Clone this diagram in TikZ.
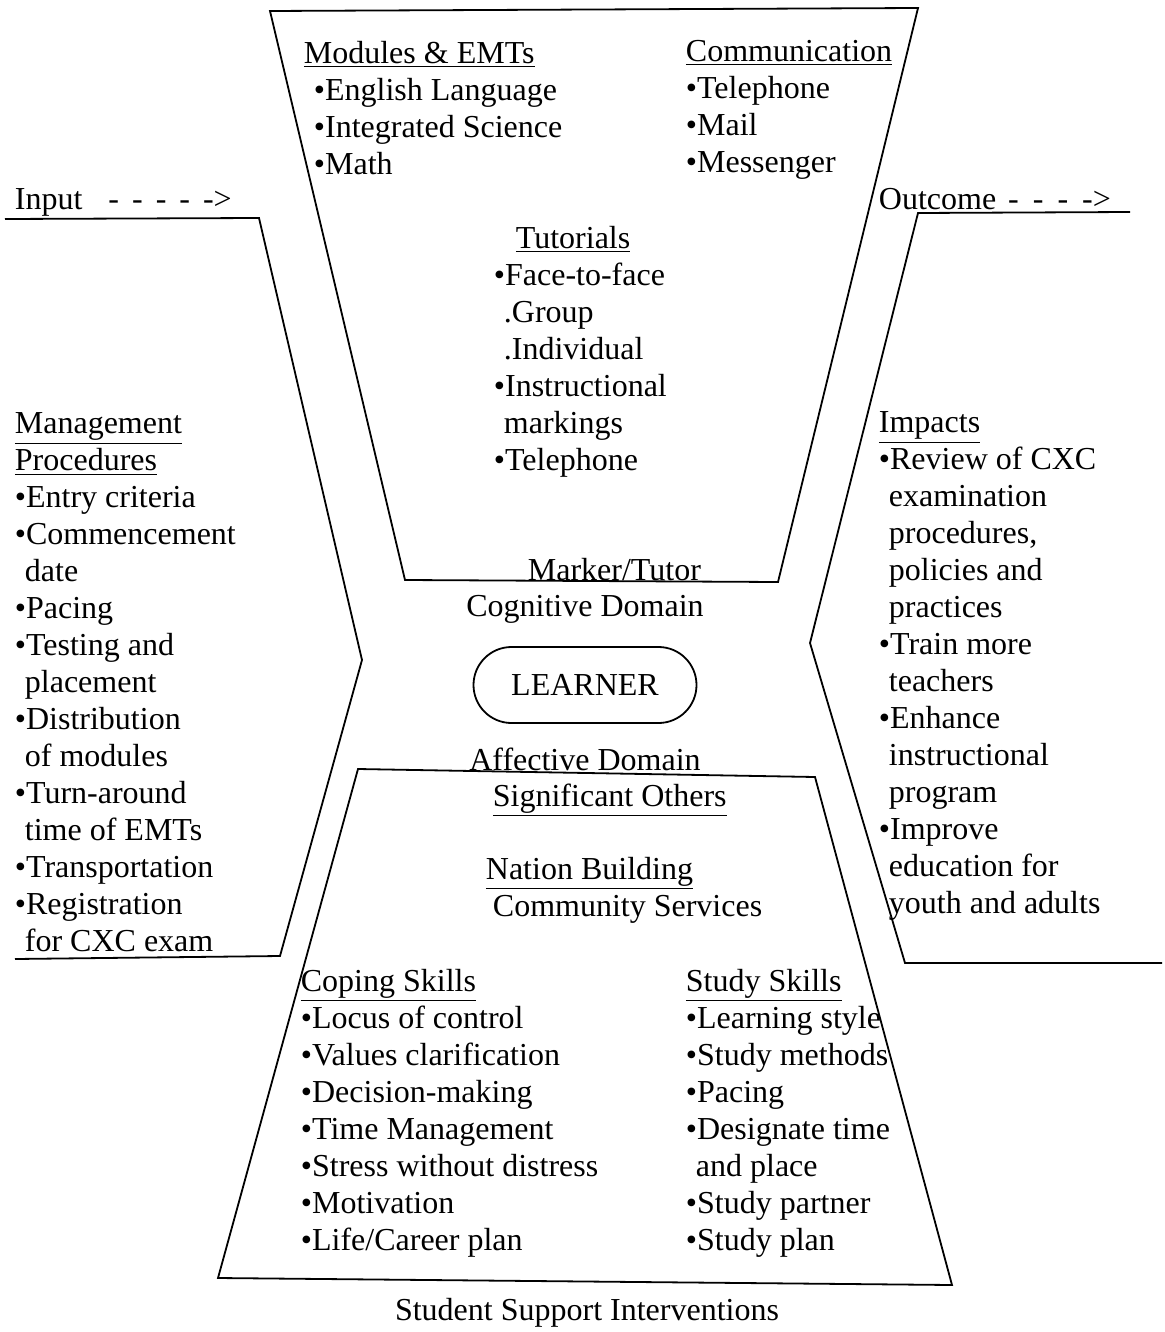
\documentclass[tikz,border=0pt]{standalone}
\usepackage{fontspec}
\setmainfont{Liberation Serif}
\usepackage{tikz}
\usetikzlibrary{positioning}
\newcommand{\bodyfont}{\fontsize{16}{18.5}\selectfont}
\newcommand{\ind}{\hspace*{5pt}}

\begin{document}
\begin{tikzpicture}[
    x=0.5pt, y=-0.5pt,
    line width=0.9pt,
    txt/.style={inner sep=0pt, align=left, anchor=north west, font=\bodyfont},
    lbl/.style={inner sep=0pt, font=\bodyfont},
    core/.style={draw, rounded corners=19pt, minimum width=111.5pt, minimum height=38pt, font=\bodyfont}
]
\useasboundingbox (0,0) rectangle (1164,1332);
% hourglass
\draw (270,11) -- (918,8) -- (778,582) -- (405,580) -- cycle;
\draw (358,769) -- (815,777) -- (952,1285) -- (218,1278) -- cycle;
% input and outcome brackets
\draw (5,219) -- (259,218) -- (362,660) -- (280,956) -- (15,959);
\draw (1130,212) -- (918,213) -- (810,643) -- (905,963) -- (1162,963);

\node[lbl, anchor=base west] (input) at (14,210) {Input\hspace{13pt}-\hspace{6.5pt}-\hspace{6.5pt}-\hspace{6.5pt}-\hspace{6.5pt}->};
\node[lbl, anchor=base west] (outcome) at (878,210) {Outcome\hspace{6pt}-\hspace{7pt}-\hspace{7pt}-\hspace{7pt}->};

% top funnel
\node[txt] (modules) at (303,40) {\underline{Modules \& EMTs}\\\ind•English Language\\\ind•Integrated Science\\\ind•Math};
\node[txt] (comm) at (685,39) {\underline{Communication}\\•Telephone\\•Mail\\•Messenger};
\node[txt] (tutorials) at (493,225) {\hspace*{11pt}\underline{Tutorials}\\•Face-to-face\\\ind.Group\\\ind.Individual\\•Instructional\\\ind markings\\•Telephone};
\node[lbl, anchor=base west] (marker) at (527,580) {Marker/Tutor};

% centre
\node[core] (learner) at (585,685) {LEARNER};
\node[lbl, above=11pt of learner] (cognitive) {Cognitive Domain};
\node[lbl, below=11.5pt of learner] (affective) {Affective Domain};

% bottom funnel
\node[lbl, anchor=base west] (others) at (492,806) {\underline{Significant Others}};
\node[txt] (nation) at (485,856) {\underline{Nation Building}\\\hspace*{3.5pt}Community Services};
\node[txt] (coping) at (300,968) {\underline{Coping Skills}\\•Locus of control\\•Values clarification\\•Decision-making\\•Time Management\\•Stress without distress\\•Motivation\\•Life/Career plan};
\node[txt] (study) at (685,968) {\underline{Study Skills}\\•Learning style\\•Study methods\\•Pacing\\•Designate time\\\ind and place\\•Study partner\\•Study plan};
\node[lbl, anchor=base] (support) at (587,1320) {Student Support Interventions};

% side columns
\node[txt] (mgmt) at (14,412) {\underline{Management}\\\underline{Procedures}\\•Entry criteria\\•Commencement\\\ind date\\•Pacing\\•Testing and\\\ind placement\\•Distribution\\\ind of modules\\•Turn-around\\\ind time of EMTs\\•Transportation\\•Registration\\\ind for CXC exam};
\node[txt] (impacts) at (878,411) {\underline{Impacts}\\•Review of CXC\\\ind examination\\\ind procedures,\\\ind policies and\\\ind practices\\•Train more\\\ind teachers\\•Enhance\\\ind instructional\\\ind program\\•Improve\\\ind education for\\\ind youth and adults};
\end{tikzpicture}
\end{document}
